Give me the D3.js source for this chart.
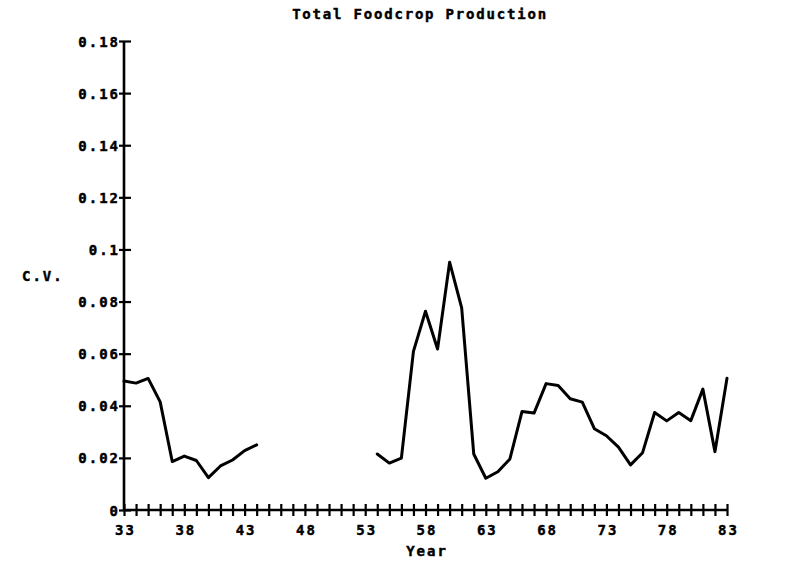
<!DOCTYPE html>
<html>
<head>
<meta charset="utf-8">
<script src="https://cdn.jsdelivr.net/npm/d3@7"></script>
<style>
  html, body { margin: 0; padding: 0; background: #fff; }
  svg { display: block; }
  text { font-family: "DejaVu Sans Mono", monospace; font-weight: bold; fill: #000; stroke: #000; stroke-width: 0.45px; }
</style>
</head>
<body>
<svg id="chart" width="788" height="570"></svg>
<script>
// Coefficient of variation of total foodcrop production, by year (19xx).
const years = d3.range(33, 84);
const cvValues = [
  // 33 - 44
  0.0495, 0.0487, 0.0505, 0.0415, 0.0186, 0.0207, 0.0190, 0.0124, 0.0169, 0.0192, 0.0228, 0.0250,
  // 45 - 53 (no data)
  null, null, null, null, null, null, null, null, null,
  // 54 - 83
  0.0215, 0.0180, 0.0199, 0.0609, 0.0763, 0.0618, 0.0951, 0.0776, 0.0215, 0.0122,
  0.0147, 0.0196, 0.0378, 0.0372, 0.0485, 0.0478, 0.0427, 0.0414, 0.0312, 0.0285,
  0.0241, 0.0173, 0.0220, 0.0374, 0.0342, 0.0374, 0.0343, 0.0464, 0.0224, 0.0506
];
const yTickValues = [0, 0.02, 0.04, 0.06, 0.08, 0.1, 0.12, 0.14, 0.16, 0.18];
const yTickLabels = ["0", "0.02", "0.04", "0.06", "0.08", "0.1", "0.12", "0.14", "0.16", "0.18"];
const xLabelYears = [33, 38, 43, 48, 53, 58, 63, 68, 73, 78, 83];

const titleText = "Total Foodcrop Production";
const xTitle = "Year";
const yTitle = "C.V.";

const svg = d3.select("#chart");

const x = d3.scaleLinear().domain([33, 83]).range([124, 727]);
const y = d3.scaleLinear().domain([0, 0.18]).range([510, 41]);

const LS = 2; // letter spacing of the plotter lettering

// Y axis: spine plus crossing ticks
const yAxis = d3.axisLeft(y)
  .tickValues(yTickValues)
  .tickSize(0)
  .tickFormat("");
const gy = svg.append("g").attr("transform", `translate(${x.range()[0]},0)`).call(yAxis);
gy.select(".domain").remove();
gy.append("line")
  .attr("x1", 0).attr("x2", 0)
  .attr("y1", y(0)).attr("y2", y(0.18))
  .attr("stroke", "#000").attr("stroke-width", 2.6);
gy.selectAll(".tick").append("line")
  .attr("x1", -5).attr("x2", 7)
  .attr("stroke", "#000").attr("stroke-width", 2.2);
gy.selectAll(".tick").append("text")
  .attr("x", -6 + LS)
  .attr("dy", "0.36em")
  .attr("text-anchor", "end")
  .attr("font-size", 14)
  .attr("letter-spacing", LS)
  .text((d, i) => yTickLabels[i]);

// X axis: spine, a tick every year, labels every five years
const xAxis = d3.axisBottom(x)
  .tickValues(years)
  .tickSize(0)
  .tickFormat("");
const gx = svg.append("g").attr("transform", `translate(0,${y(0)})`).call(xAxis);
gx.select(".domain").remove();
gx.append("line")
  .attr("x1", x(33)).attr("x2", x(83))
  .attr("y1", 0).attr("y2", 0)
  .attr("stroke", "#000").attr("stroke-width", 2.4);
gx.selectAll(".tick").append("line")
  .attr("y1", -6).attr("y2", 6)
  .attr("stroke", "#000").attr("stroke-width", 2.2);
gx.selectAll(".tick")
  .filter(d => xLabelYears.includes(d))
  .append("text")
  .attr("x", LS / 2)
  .attr("y", 25)
  .attr("text-anchor", "middle")
  .attr("font-size", 14)
  .attr("letter-spacing", LS)
  .text(d => String(d));

// Data line, broken where no values exist
const line = d3.line()
  .defined(d => d.v != null)
  .x(d => x(d.year))
  .y(d => y(d.v));
const data = years.map((yr, i) => ({ year: yr, v: cvValues[i] }));
svg.append("path")
  .datum(data)
  .attr("fill", "none")
  .attr("stroke", "#000")
  .attr("stroke-width", 3)
  .attr("stroke-linejoin", "round")
  .attr("stroke-linecap", "round")
  .attr("d", line);

// Titles
svg.append("text")
  .attr("x", 419 + LS / 2).attr("y", 19)
  .attr("text-anchor", "middle")
  .attr("font-size", 14)
  .attr("letter-spacing", 1.8)
  .text(titleText);

svg.append("text")
  .attr("x", 426 + LS / 2).attr("y", 556)
  .attr("text-anchor", "middle")
  .attr("font-size", 14)
  .attr("letter-spacing", LS)
  .text(xTitle);

svg.append("text")
  .attr("x", 22).attr("y", 281)
  .attr("font-size", 14)
  .attr("letter-spacing", LS)
  .text(yTitle);
</script>
</body>
</html>
